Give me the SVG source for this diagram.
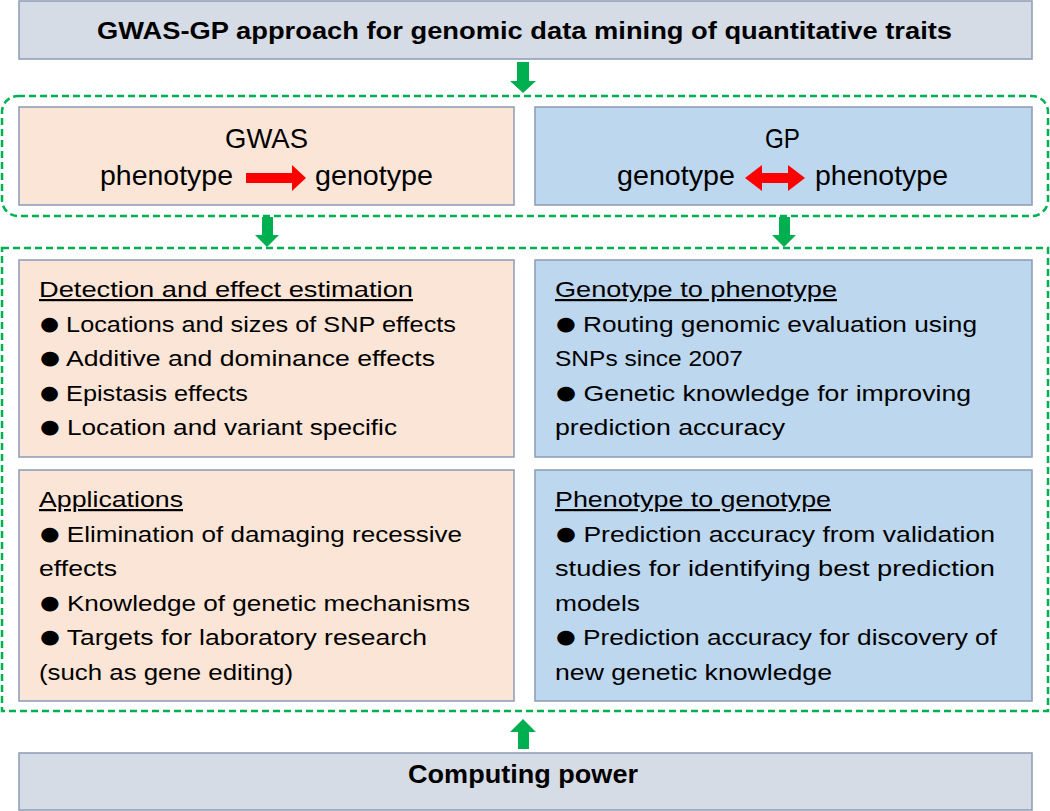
<svg xmlns="http://www.w3.org/2000/svg" width="1050" height="811" viewBox="0 0 1050 811">
<defs>
<style>
text{font-family:"Liberation Sans",Arial,sans-serif;fill:#000;}
.t{font-size:22px;}
.h{font-size:22px;text-decoration:underline;}
.b{font-weight:bold;font-size:23px;}
.l{font-size:28px;}
.d{font-family:"DejaVu Sans",sans-serif;font-size:19px;}
.gray{fill:#d6dce5;stroke:#8c9bb5;stroke-width:1.5;}
.peach{fill:#fbe5d6;stroke:#8c9bb5;stroke-width:1.5;}
.blue{fill:#bdd7ee;stroke:#8c9bb5;stroke-width:1.5;}
.dash{fill:none;stroke:#00b050;stroke-width:2.5;stroke-dasharray:7 4;}
.garrow{fill:#00b050;}
.rarrow{fill:#ff0000;}
</style>
</defs>
<rect width="1050" height="811" fill="#ffffff"/>

<g id="connectors">
<rect class="dash" x="2" y="96" width="1046" height="120" rx="16" ry="16"/>
<rect class="dash" x="2" y="248" width="1046" height="463"/>
<polygon class="garrow" points="517,62 529,62 529,81 536,81 523,93 510,81 517,81"/>
<polygon class="garrow" points="262,217 273,217 273,235 279,235 267,247 255,235 262,235"/>
<polygon class="garrow" points="779,217 790,217 790,235 796,235 784,247 772,235 779,235"/>
<polygon class="garrow" points="523,719 536,732 529,732 529,749 518,749 518,732 510,732"/>
</g>

<g id="title">
<rect class="gray" x="19" y="1" width="1013" height="58"/>
<text class="b" x="97" y="39" textLength="855" lengthAdjust="spacingAndGlyphs">GWAS-GP approach for genomic data mining of quantitative traits</text>
</g>

<g id="gwas">
<rect class="peach" x="19" y="107" width="495" height="98"/>
<text class="l" x="225" y="148" textLength="83" lengthAdjust="spacingAndGlyphs">GWAS</text>
<text class="l" x="100" y="185" textLength="133" lengthAdjust="spacingAndGlyphs">phenotype</text>
<polygon class="rarrow" points="246,173 292,173 292,165 306,178 292,191 292,183 246,183"/>
<text class="l" x="315" y="185" textLength="118" lengthAdjust="spacingAndGlyphs">genotype</text>
</g>

<g id="gp">
<rect class="blue" x="535" y="107" width="497" height="98"/>
<text class="l" x="765" y="148" textLength="35" lengthAdjust="spacingAndGlyphs">GP</text>
<text class="l" x="617" y="185" textLength="118" lengthAdjust="spacingAndGlyphs">genotype</text>
<polygon class="rarrow" points="745,178 762,165 762,173 788,173 788,165 805,178 788,191 788,183 762,183 762,191"/>
<text class="l" x="815" y="185" textLength="133" lengthAdjust="spacingAndGlyphs">phenotype</text>
</g>

<g id="detection">
<rect class="peach" x="19" y="260" width="495" height="197"/>
<text class="h" x="39" y="297" textLength="374" lengthAdjust="spacingAndGlyphs">Detection and effect estimation</text>
<text class="t" x="40" y="331.6" textLength="416" lengthAdjust="spacingAndGlyphs"><tspan class="d" dy="-2">●</tspan><tspan dy="2"> Locations and sizes of SNP effects</tspan></text>
<text class="t" x="40" y="366.2" textLength="395" lengthAdjust="spacingAndGlyphs"><tspan class="d" dy="-2">●</tspan><tspan dy="2"> Additive and dominance effects</tspan></text>
<text class="t" x="40" y="400.8" textLength="208" lengthAdjust="spacingAndGlyphs"><tspan class="d" dy="-2">●</tspan><tspan dy="2"> Epistasis effects</tspan></text>
<text class="t" x="40" y="435.4" textLength="357" lengthAdjust="spacingAndGlyphs"><tspan class="d" dy="-2">●</tspan><tspan dy="2"> Location and variant specific</tspan></text>
</g>

<g id="geno2pheno">
<rect class="blue" x="535" y="260" width="497" height="197"/>
<text class="h" x="555" y="297" textLength="282" lengthAdjust="spacingAndGlyphs">Genotype to phenotype</text>
<text class="t" x="556" y="331.6" textLength="421" lengthAdjust="spacingAndGlyphs"><tspan class="d" dy="-2">●</tspan><tspan dy="2"> Routing genomic evaluation using</tspan></text>
<text class="t" x="555" y="366.2" textLength="188" lengthAdjust="spacingAndGlyphs">SNPs since 2007</text>
<text class="t" x="556" y="400.8" textLength="415" lengthAdjust="spacingAndGlyphs"><tspan class="d" dy="-2">●</tspan><tspan dy="2"> Genetic knowledge for improving</tspan></text>
<text class="t" x="555" y="435.4" textLength="230" lengthAdjust="spacingAndGlyphs">prediction accuracy</text>
</g>

<g id="applications">
<rect class="peach" x="19" y="470" width="495" height="231"/>
<text class="h" x="39" y="507" textLength="144" lengthAdjust="spacingAndGlyphs">Applications</text>
<text class="t" x="40" y="541.6" textLength="422" lengthAdjust="spacingAndGlyphs"><tspan class="d" dy="-2">●</tspan><tspan dy="2"> Elimination of damaging recessive</tspan></text>
<text class="t" x="39" y="576.2" textLength="78" lengthAdjust="spacingAndGlyphs">effects</text>
<text class="t" x="40" y="610.8" textLength="430" lengthAdjust="spacingAndGlyphs"><tspan class="d" dy="-2">●</tspan><tspan dy="2"> Knowledge of genetic mechanisms</tspan></text>
<text class="t" x="40" y="645.4" textLength="387" lengthAdjust="spacingAndGlyphs"><tspan class="d" dy="-2">●</tspan><tspan dy="2"> Targets for laboratory research</tspan></text>
<text class="t" x="39" y="680" textLength="254" lengthAdjust="spacingAndGlyphs">(such as gene editing)</text>
</g>

<g id="pheno2geno">
<rect class="blue" x="535" y="470" width="497" height="231"/>
<text class="h" x="555" y="507" textLength="276" lengthAdjust="spacingAndGlyphs">Phenotype to genotype</text>
<text class="t" x="556" y="541.6" textLength="439" lengthAdjust="spacingAndGlyphs"><tspan class="d" dy="-2">●</tspan><tspan dy="2"> Prediction accuracy from validation</tspan></text>
<text class="t" x="555" y="576.2" textLength="440" lengthAdjust="spacingAndGlyphs">studies for identifying best prediction</text>
<text class="t" x="555" y="610.8" textLength="85" lengthAdjust="spacingAndGlyphs">models</text>
<text class="t" x="556" y="645.4" textLength="441" lengthAdjust="spacingAndGlyphs"><tspan class="d" dy="-2">●</tspan><tspan dy="2"> Prediction accuracy for discovery of</tspan></text>
<text class="t" x="555" y="680" textLength="277" lengthAdjust="spacingAndGlyphs">new genetic knowledge</text>
</g>

<g id="computing">
<rect class="gray" x="19" y="753" width="1013" height="57"/>
<text class="b" x="408" y="783" style="font-size:25px" textLength="230" lengthAdjust="spacingAndGlyphs">Computing power</text>
</g>
</svg>
